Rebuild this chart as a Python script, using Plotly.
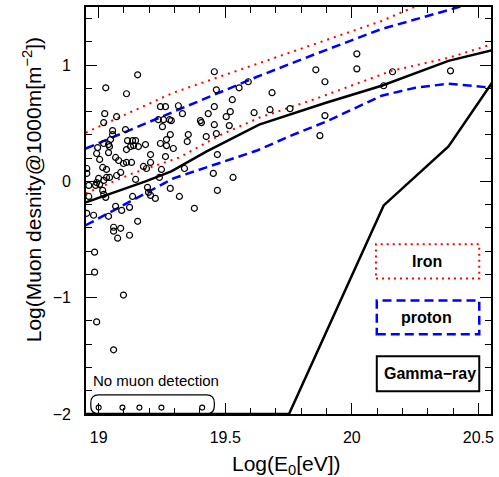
import plotly.graph_objects as go

# ---------------- data ----------------
obs_logE = [
    19.154, 19.028, 19.110, 19.457, 19.465, 19.555, 19.591, 19.528, 19.685, 19.858,
    19.894, 20.020, 20.020, 20.126, 20.161, 20.390,
    19.024, 19.020, 19.071, 19.244, 19.264, 19.315, 19.331, 19.236, 19.256, 19.280,
    19.287, 19.252, 19.433, 19.457, 19.504, 19.520, 19.614, 19.402, 19.406, 19.457,
    19.516, 19.677, 19.756, 19.894, 19.055,
    19.055, 19.106, 19.114, 19.134, 19.146, 19.138, 19.126, 19.157, 19.185, 19.244,
    19.268, 19.283, 19.268, 19.047, 19.039, 19.043, 19.020, 18.996, 19.110, 19.295,
    19.354, 19.350, 19.425, 19.465, 19.874,
    18.992, 19.039, 19.004, 19.067, 19.079, 19.098, 19.110, 19.130, 19.205, 19.205,
    19.264, 19.016, 19.031, 18.953, 18.953, 19.177, 19.189, 19.248, 19.339, 19.453,
    19.469, 19.531, 19.000, 19.031, 19.043, 19.071, 19.087, 19.146, 19.240, 19.020,
    18.992, 19.004, 18.961, 18.988,
    19.016, 19.020, 19.028, 19.193, 19.197, 19.205, 19.224, 19.283, 19.319, 19.134,
    18.961, 19.469, 19.378,
    18.953, 18.980, 19.039, 19.067, 19.091, 19.122, 19.154, 19.059, 19.059, 19.087,
    19.075, 19.122, 18.984, 18.984, 19.098, 18.992, 19.059,
]
obs_logMu = [
    0.917, 0.805, 0.754, 0.943, 0.788, 0.805, 0.857, 0.703, 0.763, 0.960,
    0.857, 1.097, 0.968, 0.823, 0.943, 0.951,
    0.583, 0.506, 0.557, 0.643, 0.643, 0.651, 0.583, 0.531, 0.531, 0.531,
    0.523, 0.471, 0.583, 0.643, 0.557, 0.600, 0.591, 0.523, 0.506, 0.488,
    0.480, 0.617, 0.626, 0.566, 0.437,
    0.403, 0.446, 0.351, 0.351, 0.351, 0.308, 0.300, 0.300, 0.317, 0.326,
    0.360, 0.403, 0.308, 0.360, 0.317, 0.300, 0.326, 0.291, 0.274, 0.283,
    0.403, 0.343, 0.386, 0.411, 0.394,
    0.240, 0.248, 0.189, 0.206, 0.180, 0.154, 0.163, 0.163, 0.231, 0.163,
    0.214, 0.120, 0.103, 0.111, 0.069, 0.129, 0.111, 0.103, 0.111, 0.069,
    0.231, 0.034, 0.026, 0.034, 0.034, 0.051, 0.077, 0.017, 0.034, 0.009,
    -0.009, -0.026, -0.034, -0.034,
    -0.077, -0.111, -0.137, -0.051, -0.094, -0.120, -0.146, -0.060, -0.129, -0.129,
    -0.129, -0.077, -0.231,
    -0.274, -0.291, -0.300, -0.214, -0.249, -0.223, -0.343, -0.394, -0.428, -0.403,
    -0.488, -0.463, -0.608, -0.780, -0.977, -1.208, -1.448,
]
# events without muon detection (drawn at the floor)
nodet_logE = [19.000, 19.094, 19.161, 19.248, 19.409]
nodet_logMu = [-1.945, -1.945, -1.945, -1.945, -1.945]

# model curves
mean_logE = [18.949, 19.185, 19.287, 19.425, 19.634, 19.898, 20.118, 20.382, 20.559]
mean_logMu = [-0.180, 0.000, 0.086, 0.257, 0.488, 0.677, 0.823, 1.037, 1.131]

iron_lo_logE = [18.949, 19.134, 19.319, 19.476, 19.634, 19.858, 20.157, 20.382, 20.559]
iron_lo_logMu = [-0.103, 0.069, 0.206, 0.394, 0.548, 0.711, 0.951, 1.063, 1.183]
iron_hi_logE = [18.949, 19.295, 19.626, 19.858, 20.118, 20.236, 20.559]
iron_hi_logMu = [0.420, 0.763, 1.011, 1.183, 1.380, 1.491, 1.739]

prot_hi_logE = [18.949, 19.295, 19.626, 19.858, 20.118, 20.382, 20.559]
prot_hi_logMu = [0.283, 0.600, 0.900, 1.097, 1.311, 1.474, 1.585]
prot_lo_logE = [18.949, 19.295, 19.626, 19.760, 19.898, 20.118, 20.251, 20.382, 20.559]
prot_lo_logMu = [-0.377, 0.026, 0.266, 0.394, 0.514, 0.737, 0.806, 0.840, 0.805]

gamma_logE = [18.949, 19.752, 20.126, 20.382, 20.559]
gamma_logMu = [-2.0, -2.0, -0.206, 0.300, 0.865]

x_ticks = [19, 19.5, 20, 20.5]
x_ticklabels = ["19", "19.5", "20", "20.5"]
y_ticks = [-2, -1, 0, 1]
y_ticklabels = ["\u22122", "\u22121", "0", "1"]

FONT = "Liberation Sans, Arial, sans-serif"

fig = go.Figure()

fig.add_trace(go.Scatter(x=iron_hi_logE, y=iron_hi_logMu, mode="lines",
                         line=dict(color="#ff0000", width=2, dash="2px,5px")))
fig.add_trace(go.Scatter(x=iron_lo_logE, y=iron_lo_logMu, mode="lines",
                         line=dict(color="#ff0000", width=2, dash="2px,5px")))
fig.add_trace(go.Scatter(x=prot_hi_logE, y=prot_hi_logMu, mode="lines",
                         line=dict(color="#0000ff", width=2.5, dash="9px,5px")))
fig.add_trace(go.Scatter(x=prot_lo_logE, y=prot_lo_logMu, mode="lines",
                         line=dict(color="#0000ff", width=2.5, dash="9px,5px")))
fig.add_trace(go.Scatter(x=mean_logE, y=mean_logMu, mode="lines",
                         line=dict(color="black", width=2.5)))
fig.add_trace(go.Scatter(x=gamma_logE, y=gamma_logMu, mode="lines",
                         line=dict(color="black", width=2.5), cliponaxis=False))
fig.add_trace(go.Scatter(x=obs_logE, y=obs_logMu, mode="markers",
                         marker=dict(symbol="circle-open", size=6, color="black",
                                     line=dict(width=1.2, color="black"))))
fig.add_trace(go.Scatter(x=nodet_logE, y=nodet_logMu, mode="markers",
                         marker=dict(symbol="circle-open", size=5, color="black",
                                     line=dict(width=1.1, color="black"))))

# rounded box around "no muon detection" events
bx0, bx1, by0, by1 = 18.969, 19.457, -2.0, -1.835
rx, ry = 0.031, 0.068
path = (f"M {bx0+rx},{by0} L {bx1-rx},{by0} Q {bx1},{by0} {bx1},{by0+ry} "
        f"L {bx1},{by1-ry} Q {bx1},{by1} {bx1-rx},{by1} L {bx0+rx},{by1} "
        f"Q {bx0},{by1} {bx0},{by1-ry} L {bx0},{by0+ry} Q {bx0},{by0} {bx0+rx},{by0} Z")
shapes = [dict(type="path", path=path, xref="x", yref="y",
               line=dict(color="black", width=1.2))]

# legend boxes
shapes += [
    dict(type="rect", xref="paper", yref="paper", x0=0.716, x1=0.971, y0=0.333, y1=0.417,
         line=dict(color="#ff0000", width=2, dash="2px,4px")),
    dict(type="rect", xref="paper", yref="paper", x0=0.718, x1=0.971, y0=0.196, y1=0.279,
         line=dict(color="#0000ff", width=2.5, dash="9px,5px")),
    dict(type="rect", xref="paper", yref="paper", x0=0.718, x1=0.971, y0=0.056, y1=0.142,
         line=dict(color="black", width=2)),
]

def ann(text, x, y, size, xref="paper", yref="paper", **kw):
    d = dict(text=text, xref=xref, yref=yref, x=x, y=y, showarrow=False,
             xanchor="center", yanchor="middle",
             font=dict(family=FONT, size=size, color="black"))
    d.update(kw)
    return d

annotations = [
    ann("<b>Iron</b>", 0.841, 0.375, 16),
    ann("<b>proton</b>", 0.841, 0.236, 16),
    ann("<b>Gamma\u2212ray</b>", 0.849, 0.100, 16),
    ann("No muon detection", 18.968, -1.714, 15, xref="x", yref="y", xanchor="left"),
    ann("Log(E<sub>0</sub>[eV])", 0.495, -0.125, 21),
    ann("Log(Muon desnity@1000m[m<sup>\u22122</sup>])", -0.133, 0.55, 21, textangle=-90),
]

axis_common = dict(showgrid=False, zeroline=False, showline=True, linecolor="black",
                   linewidth=1.8, mirror="allticks", ticks="inside", ticklen=11,
                   tickwidth=1.2, tickcolor="black",
                   tickfont=dict(family=FONT, size=16, color="black"))

fig.update_layout(
    width=499, height=477,
    margin=dict(l=86, r=5, t=6, b=63),
    paper_bgcolor="white", plot_bgcolor="white",
    showlegend=False,
    shapes=shapes, annotations=annotations,
    xaxis=dict(range=[18.95, 20.55], tickvals=x_ticks, ticktext=x_ticklabels,
               minor=dict(dtick=0.1, tick0=19, ticks="inside", ticklen=6,
                          tickwidth=1.1, tickcolor="black"),
               ticklabelstandoff=8, **axis_common),
    yaxis=dict(range=[-2.0, 1.5], tickvals=y_ticks, ticktext=y_ticklabels,
               minor=dict(dtick=0.2, tick0=0, ticks="inside", ticklen=6,
                          tickwidth=1.1, tickcolor="black"),
               ticklabelstandoff=10, **axis_common),
)

fig.write_html("out.html", config={"displayModeBar": False},
               post_script="document.body.style.margin='0';")
